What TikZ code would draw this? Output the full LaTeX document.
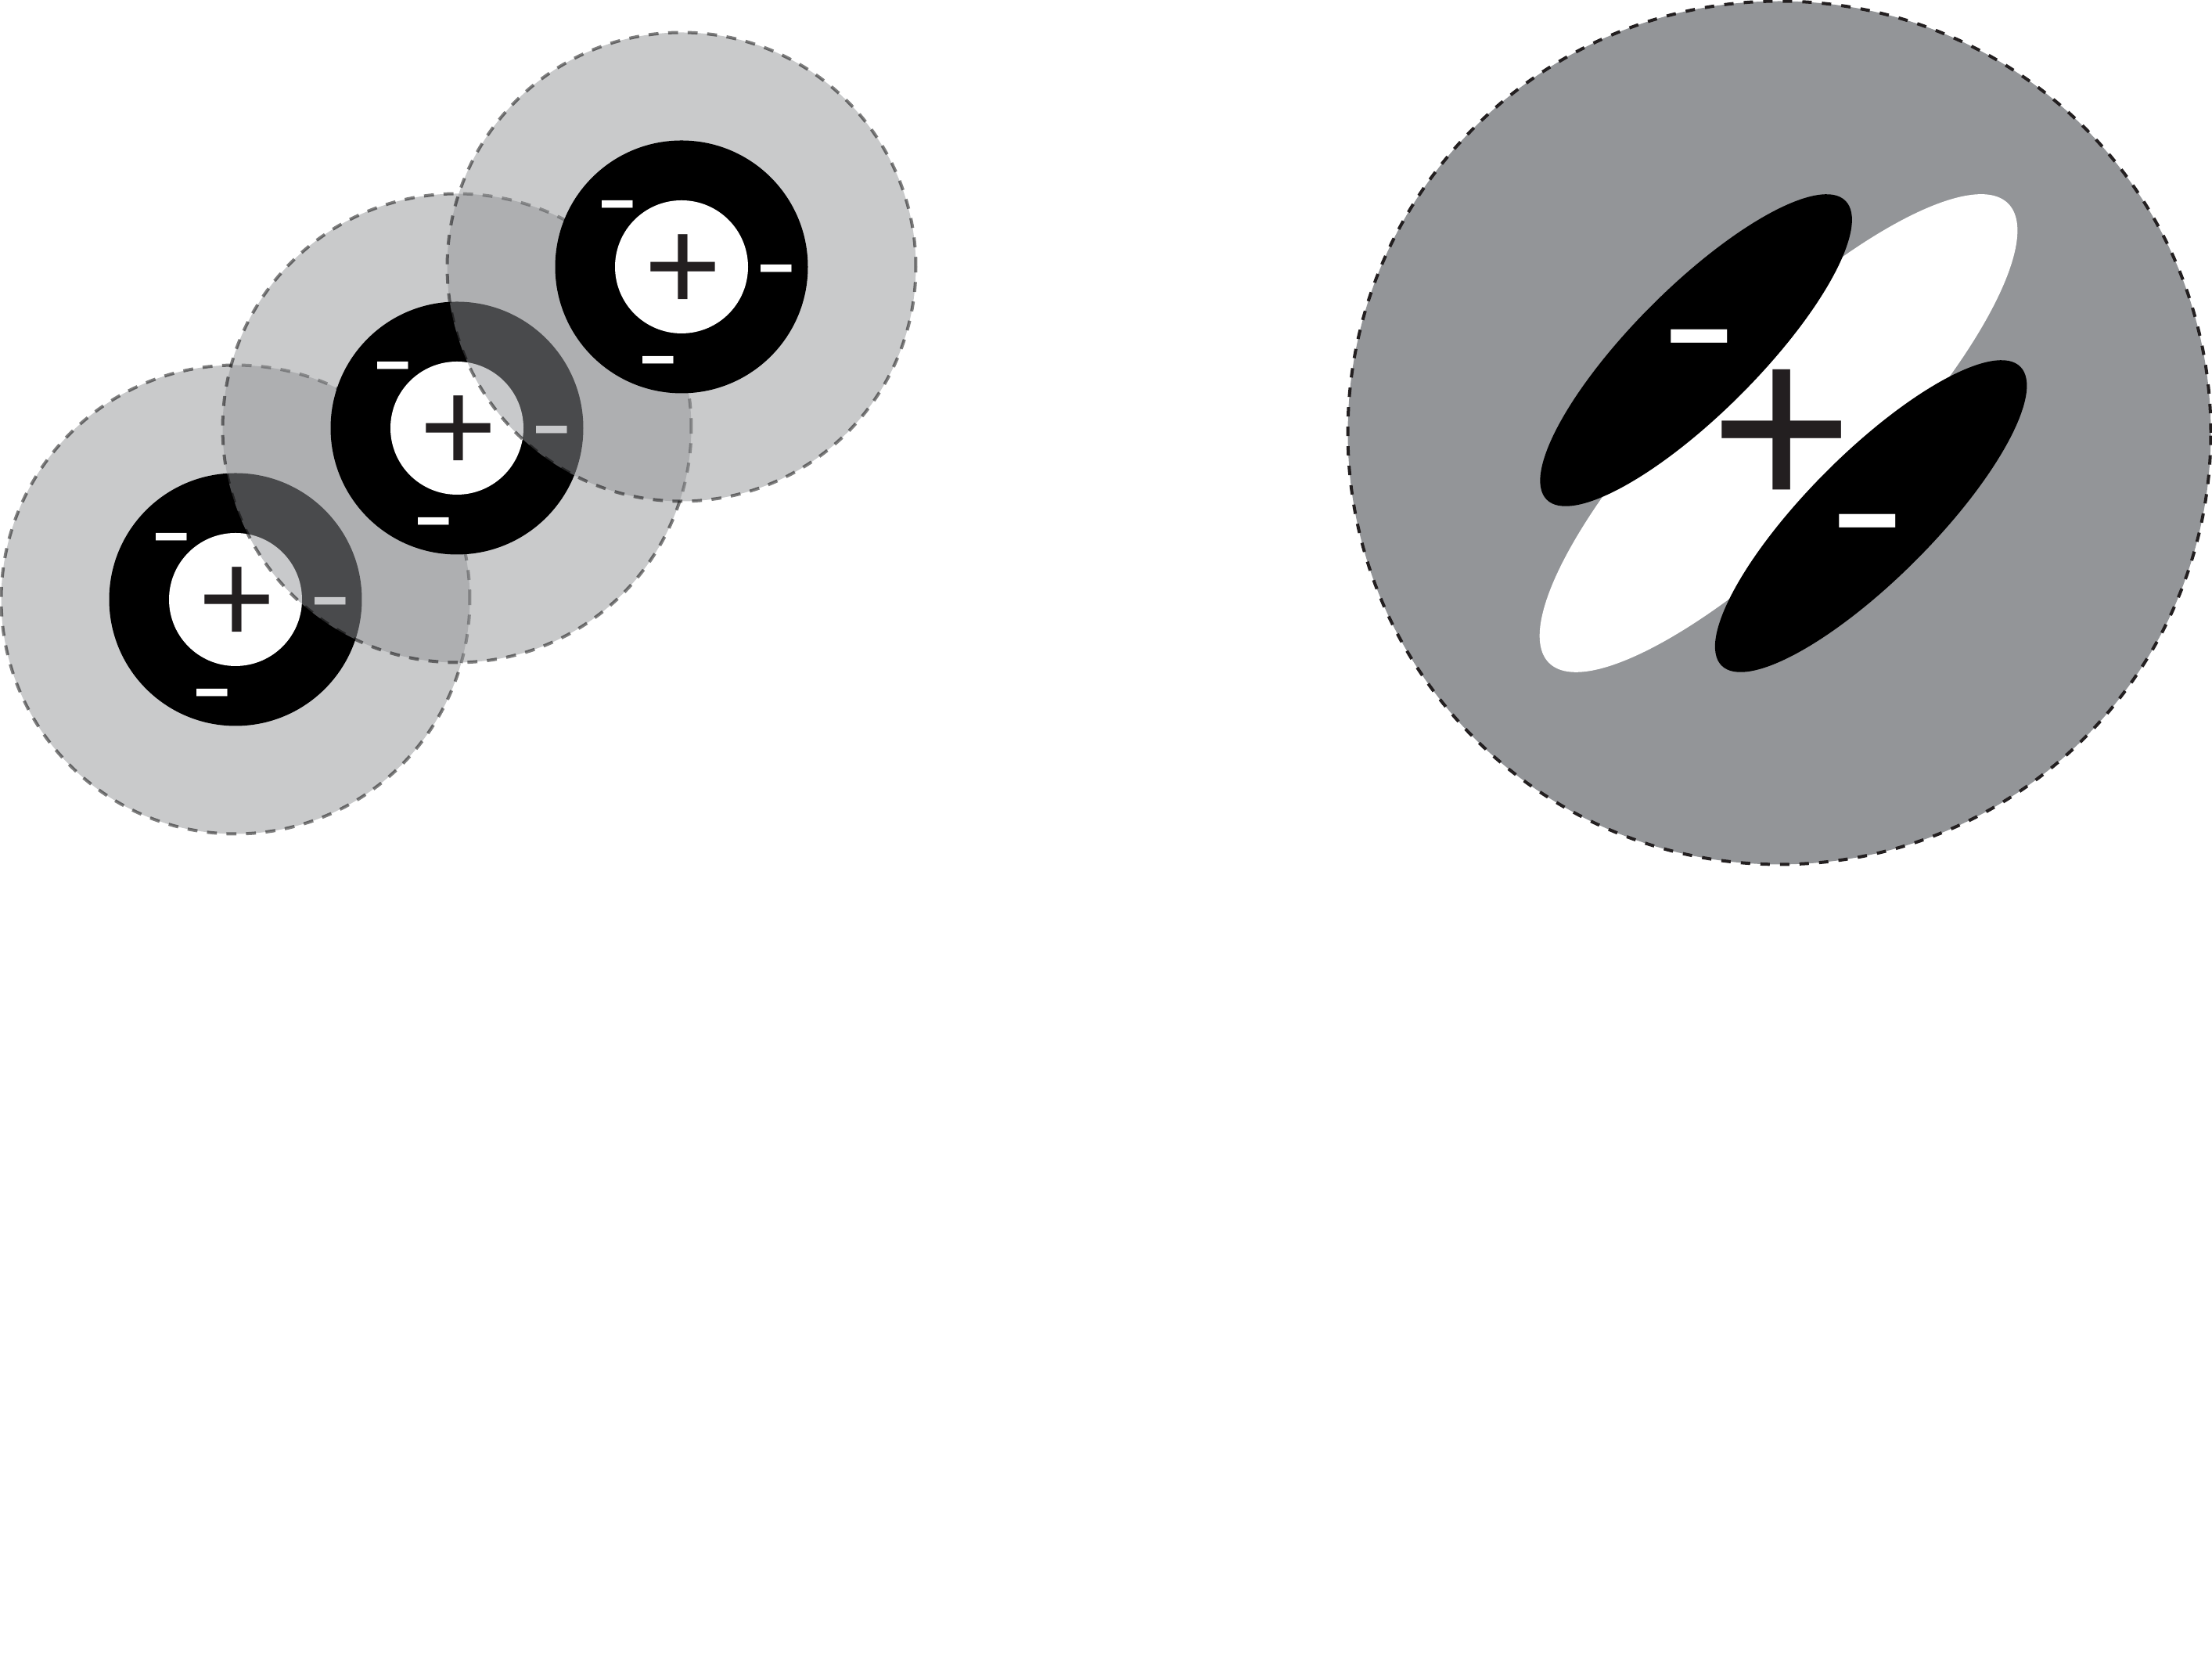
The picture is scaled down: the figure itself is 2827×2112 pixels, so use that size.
\documentclass[tikz,border=0pt]{standalone}
\usepackage{fontspec}
\usepackage{graphicx}
\usetikzlibrary{shapes.geometric}
\newfontfamily\chargefont{Liberation Sans}
\definecolor{cloudgray}{HTML}{939598}
\definecolor{signink}{HTML}{231F20}
% glyph box cut down to its ink: #1 = ink height
\newcommand{\inkbox}[2]{\raisebox{0pt}[\height][\dimexpr#1-\height\relax]{#2}}

\begin{document}
\begin{tikzpicture}[x=0.1pt,y=-0.1pt]
\tikzstyle{every node}=[shape=circle,inner sep=0pt,outer sep=0pt];
\tikzstyle{cloud}=[fill=cloudgray,draw=black,opacity=0.5,line width=0.4pt,dash pattern=on 1.27pt off 1.23pt,minimum size=59.9pt];
\tikzstyle{shell}=[fill=black,minimum size=32.3pt];
\tikzstyle{core}=[fill=white,minimum size=17pt];
\tikzstyle{plussign}=[shape=rectangle,text=signink,font=\chargefont\fontsize{16.95pt}{18pt}\selectfont];
\tikzstyle{minussign}=[shape=rectangle,text=white,font=\chargefont\fontsize{8.13pt}{9pt}\selectfont];
\tikzstyle{bigcloud}=[fill=cloudgray,draw=signink,line width=0.4pt,dash pattern=on 1.2pt off 1.3pt,minimum size=110.3pt];
\tikzstyle{bond}=[shape=ellipse,fill=white,minimum width=83pt,minimum height=23.8pt,rotate=45];
\tikzstyle{lobe}=[shape=ellipse,fill=black,minimum width=54pt,minimum height=16.1pt,rotate=45];
\tikzstyle{bigplus}=[shape=rectangle,text=signink,font=\chargefont\fontsize{31.4pt}{32pt}\selectfont];
\tikzstyle{bigminus}=[shape=rectangle,text=white,font=\chargefont\fontsize{14.8pt}{15pt}\selectfont];

\useasboundingbox (0,0) rectangle (2827,2112);

% lower atom
\node[cloud] (cloud1) at (301,766) {};
\node[shell] (shell1) at (cloud1) {};
\node[core] (core1) at (cloud1) {};
\node[plussign] (plus1) at ([shift={(1.5,8)}]core1) {\inkbox{8.1pt}{+}};
\node[minussign] (minus1a) at ([shift={(-82,-60.5)}]core1) {\inkbox{0.97pt}{\scalebox{1}[1.64]{−}}};
\node[minussign] (minus1b) at ([shift={(121,22)}]core1) {\inkbox{0.97pt}{\scalebox{1}[1.64]{−}}};
\node[minussign] (minus1c) at ([shift={(-29.5,138.5)}]core1) {\inkbox{0.97pt}{\scalebox{1}[1.64]{−}}};

% middle atom
\node[cloud] (cloud2) at (584,547) {};
\node[shell] (shell2) at (cloud2) {};
\node[core] (core2) at (cloud2) {};
\node[plussign] (plus2) at ([shift={(1.5,8)}]core2) {\inkbox{8.1pt}{+}};
\node[minussign] (minus2a) at ([shift={(-82,-60.5)}]core2) {\inkbox{0.97pt}{\scalebox{1}[1.64]{−}}};
\node[minussign] (minus2b) at ([shift={(121,22)}]core2) {\inkbox{0.97pt}{\scalebox{1}[1.64]{−}}};
\node[minussign] (minus2c) at ([shift={(-29.5,138.5)}]core2) {\inkbox{0.97pt}{\scalebox{1}[1.64]{−}}};

% upper atom
\node[cloud] (cloud3) at (871,341) {};
\node[shell] (shell3) at (cloud3) {};
\node[core] (core3) at (cloud3) {};
\node[plussign] (plus3) at ([shift={(1.5,8)}]core3) {\inkbox{8.1pt}{+}};
\node[minussign] (minus3a) at ([shift={(-82,-60.5)}]core3) {\inkbox{0.97pt}{\scalebox{1}[1.64]{−}}};
\node[minussign] (minus3b) at ([shift={(121,22)}]core3) {\inkbox{0.97pt}{\scalebox{1}[1.64]{−}}};
\node[minussign] (minus3c) at ([shift={(-29.5,138.5)}]core3) {\inkbox{0.97pt}{\scalebox{1}[1.64]{−}}};

% molecule
\node[bigcloud] (molecule) at (2274,553) {};
\node[bond] (bond) at (2273,553.5) {};
\node[lobe] (lobe1) at (2167.6,447.5) {};
\node[lobe] (lobe2) at (2391.1,659.5) {};
\node[bigplus] (plus4) at (2277,563.2) {\inkbox{15pt}{+}};
\node[bigminus] (minus4a) at (2172,465.7) {\inkbox{1.75pt}{\scalebox{1}[1.62]{−}}};
\node[bigminus] (minus4b) at (2387,701) {\inkbox{1.75pt}{\scalebox{1}[1.62]{−}}};
\end{tikzpicture}
\end{document}
